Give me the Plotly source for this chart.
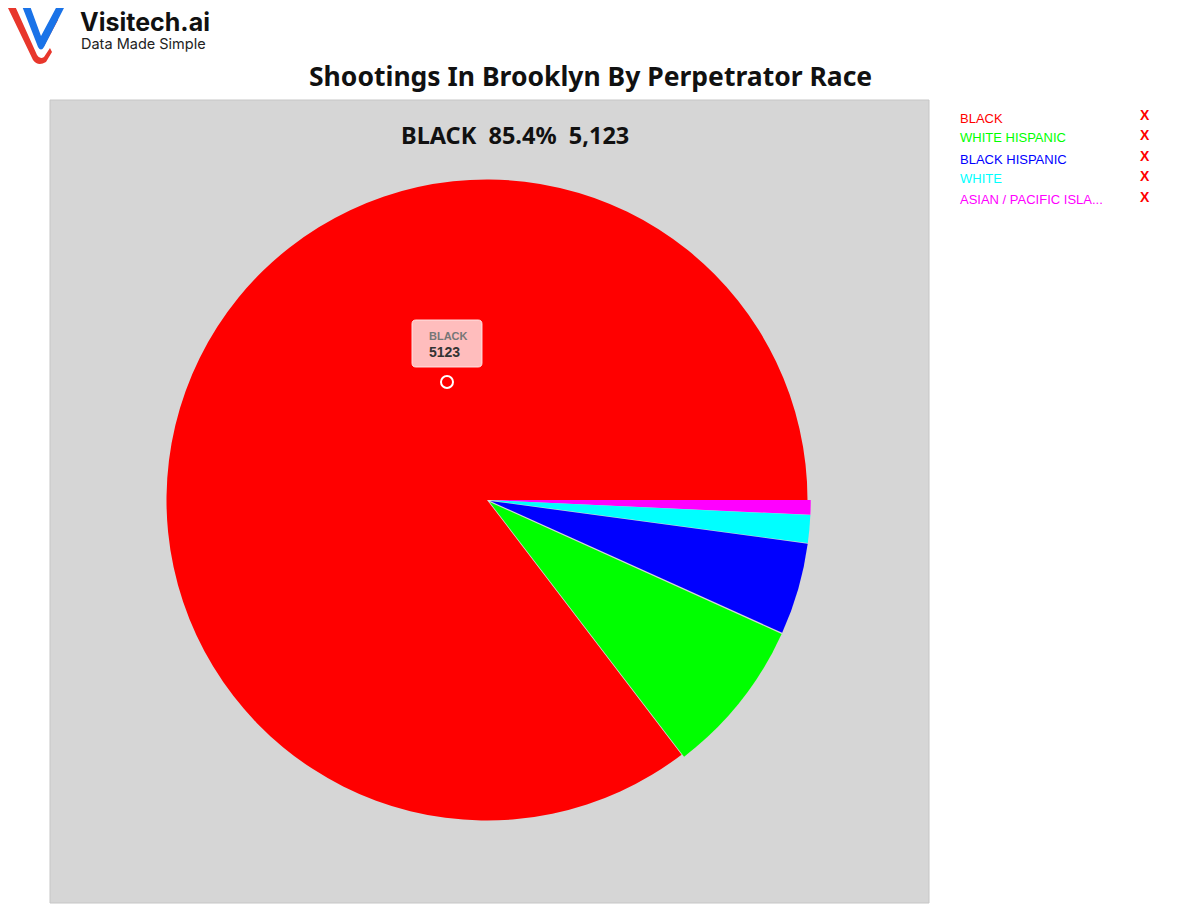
import plotly.graph_objects as go

# ---- data ----
races = ["BLACK", "WHITE HISPANIC", "BLACK HISPANIC", "WHITE", "ASIAN / PACIFIC ISLANDER"]
legend_labels = ["BLACK", "WHITE HISPANIC", "BLACK HISPANIC", "WHITE", "ASIAN / PACIFIC ISLA..."]
shootings = [5123, 472, 277, 84, 44]
colors = ["#ff0000", "#00ff00", "#0000ff", "#00ffff", "#ff00ff"]
pulls = [0, 0.01, 0.01, 0.01, 0.01]
title_text = "Shootings In Brooklyn By Perpetrator Race"

W, H = 1180, 905
OFF = 8  # default body margin of the html page


def px(x):
    return (x - OFF) / W


def py(y):
    return 1 - (y - OFF) / H


total = sum(shootings)
top_pct = shootings[0] / total * 100
header = f"{races[0]}  {top_pct:.1f}%  {shootings[0]:,}"

# pie geometry (pixels)
cx, cy, r = 487, 500, 320.5
half = r * (1 + max(pulls))

fig = go.Figure()
fig.add_trace(go.Pie(
    labels=races[::-1], values=shootings[::-1], sort=False,
    direction="clockwise", rotation=90,
    marker=dict(colors=colors[::-1], line=dict(width=0)),
    pull=pulls[::-1], textinfo="none", hoverinfo="skip", showlegend=False,
    domain=dict(x=[px(cx - half), px(cx + half)], y=[py(cy + half), py(cy - half)]),
))

shapes = []
# plot panel
shapes.append(dict(type="rect", xref="paper", yref="paper", layer="below",
                   x0=px(50), x1=px(929), y0=py(903), y1=py(100),
                   fillcolor="#d6d6d6", line=dict(color="#c6c6c6", width=1)))


def path_from(points_cmds):
    out = []
    for cmd in points_cmds:
        if isinstance(cmd, str):
            out.append(cmd)
        else:
            out.append(f"{px(cmd[0]):.5f},{py(cmd[1]):.5f}")
    return " ".join(out)


# logo: red stroke
shapes.append(dict(type="path", xref="paper", yref="paper",
                   path=path_from(["M", (7, 6), "L", (15, 6), "L", (37, 55), "Q", (40, 60), (44, 57),
                                   "L", (50, 48), "L", (52, 52), "L", (46, 62), "Q", (38, 67), (33, 60), "Z"]),
                   fillcolor="#e8372c", line=dict(width=0)))
shapes.append(dict(type="path", xref="paper", yref="paper",
                   path=path_from(["M", (41, 40), "L", (55, 14), "L", (58, 20), "L", (44, 46), "Z"]),
                   fillcolor="#e8372c", line=dict(width=0)))
# logo: blue stroke
shapes.append(dict(type="path", xref="paper", yref="paper",
                   path=path_from(["M", (22, 6), "L", (30, 6), "L", (41, 36), "L", (57, 6), "L", (65, 6),
                                   "L", (44, 47), "Q", (41, 52), (38, 47), "Z"]),
                   fillcolor="#1a73e8", line=dict(width=0)))

# tooltip box
bx0, by0, bx1, by1, rr = 412, 320, 482, 367, 4
shapes.append(dict(type="path", xref="paper", yref="paper",
                   path=path_from(["M", (bx0 + rr, by0), "L", (bx1 - rr, by0), "Q", (bx1, by0), (bx1, by0 + rr),
                                   "L", (bx1, by1 - rr), "Q", (bx1, by1), (bx1 - rr, by1),
                                   "L", (bx0 + rr, by1), "Q", (bx0, by1), (bx0, by1 - rr),
                                   "L", (bx0, by0 + rr), "Q", (bx0, by0), (bx0 + rr, by0), "Z"]),
                   fillcolor="rgba(255,205,205,0.92)", line=dict(color="rgba(255,235,235,0.9)", width=1)))
# hover point marker
shapes.append(dict(type="circle", xref="paper", yref="paper",
                   x0=px(441), x1=px(453), y0=py(388), y1=py(376),
                   fillcolor="rgba(0,0,0,0)", line=dict(color="white", width=2)))

annotations = []
annotations.append(dict(xref="paper", yref="paper", x=px(79), y=py(22), xanchor="left", yanchor="middle",
                        text="<b>Visitech.ai</b>", showarrow=False, borderpad=0,
                        font=dict(family="Inter, Roboto, sans-serif", size=25, color="#111111")))
annotations.append(dict(xref="paper", yref="paper", x=px(80), y=py(43), xanchor="left", yanchor="middle",
                        text="Data Made Simple", showarrow=False, borderpad=0,
                        font=dict(family="Inter, Roboto, sans-serif", size=14.5, color="#222222")))
annotations.append(dict(xref="paper", yref="paper", x=px(590), y=py(76), xanchor="center", yanchor="middle",
                        text=f"<b>{title_text}</b>", showarrow=False,
                        font=dict(family="Noto Sans, sans-serif", size=26.5, color="#111111")))
annotations.append(dict(xref="paper", yref="paper", x=px(515), y=py(135), xanchor="center", yanchor="middle",
                        text=f"<b>{header}</b>", showarrow=False,
                        font=dict(family="Noto Sans, sans-serif", size=23.5, color="#111111")))
# tooltip text
annotations.append(dict(xref="paper", yref="paper", x=px(427), y=py(336), xanchor="left", yanchor="middle",
                        text=f"<b>{races[0]}</b>", showarrow=False,
                        font=dict(family="Liberation Sans, Arial, sans-serif", size=11, color="#777777")))
annotations.append(dict(xref="paper", yref="paper", x=px(427), y=py(352), xanchor="left", yanchor="middle",
                        text=f"<b>{shootings[0]}</b>", showarrow=False,
                        font=dict(family="Liberation Sans, Arial, sans-serif", size=14, color="#333333")))
# custom legend
leg_y = [118, 138, 159, 179, 200]
for lab, col, yy in zip(legend_labels, colors, leg_y):
    annotations.append(dict(xref="paper", yref="paper", x=px(958), y=py(yy), xanchor="left", yanchor="middle",
                            text=lab, showarrow=False,
                            font=dict(family="Liberation Sans, Arial, sans-serif", size=13, color=col)))
    annotations.append(dict(xref="paper", yref="paper", x=px(1145), y=py(yy - 3), xanchor="center", yanchor="middle",
                            text="<b>X</b>", showarrow=False,
                            font=dict(family="Liberation Sans, Arial, sans-serif", size=14, color="#ff0000")))

fig.update_layout(
    width=W, height=H,
    margin=dict(l=0, r=0, t=0, b=0),
    paper_bgcolor="white", plot_bgcolor="white",
    shapes=shapes, annotations=annotations,
    showlegend=False,
)

fig.write_html("out.html")
